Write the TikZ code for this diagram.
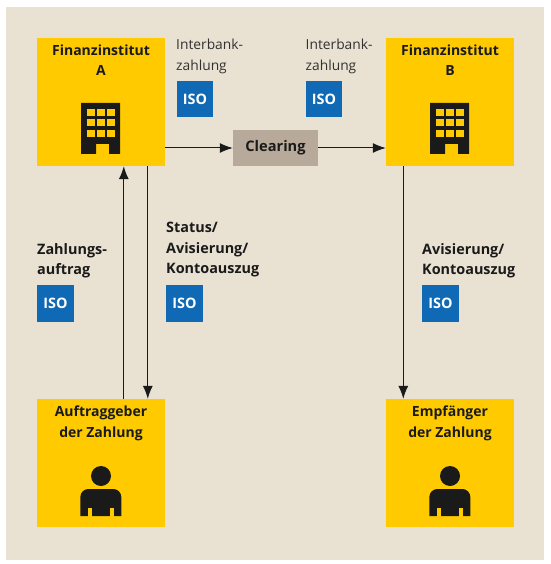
\documentclass[tikz,border=0pt]{standalone}
\usepackage{fontspec}
\setmainfont{Open Sans}
\usetikzlibrary{positioning,arrows.meta}
\definecolor{uSand}{HTML}{E9E2D3}
\definecolor{uGold}{HTML}{FFCB00}
\definecolor{uIso}{HTML}{0F69B4}
\definecolor{uClear}{HTML}{B8AA9A}
\definecolor{uInk}{HTML}{1A1A1A}
\tikzset{
  party/.style={fill=uGold, minimum width=128pt, minimum height=128pt, inner sep=0pt},
  title/.style={font=\fontsize{14}{20.3}\selectfont\bfseries, text=uInk, align=center, inner sep=0pt},
  lbl/.style={font=\fontsize{13.8}{20.5}\selectfont, text=uInk!90, align=left, inner sep=0pt, anchor=north west},
  lblb/.style={lbl, font=\fontsize{14.4}{20.5}\selectfont\bfseries, text=uInk},
  iso/.style={fill=uIso, text=white, minimum width=36.5pt, minimum height=36.5pt, inner sep=0pt,
              font=\fontsize{14.4}{16}\selectfont\bfseries, anchor=north west},
  clear/.style={fill=uClear, text=uInk, minimum width=85pt, minimum height=36pt, inner sep=0pt,
                font=\fontsize{14.6}{16}\selectfont\bfseries},
  flow/.style={-{Latex[length=13pt,width=10pt]}, line width=1pt, draw=uInk},
  building/.pic={
    \fill[uInk] (-20,0) -- (19,0) -- (19,51) -- (8,51) -- (8,41) -- (-5,41) -- (-5,51) -- (-20,51) -- cycle;
    \foreach \wx in {-14,-4,6}
      \foreach \wy in {6,16,27}
        \fill[uGold] (\wx,\wy) rectangle ++(7.5,7.5);
  },
  person/.pic={
    \fill[uInk] (0,0) circle (10);
    \fill[uInk] (-20.7,40) [rounded corners=8pt] -- (-20.7,13) -- (20.3,13) [sharp corners] -- (20.3,40) -- cycle;
    \fill[uGold] (-13.3,32) rectangle (-9,40.5);
    \fill[uGold] (9,32) rectangle (13.3,40.5);
  },
}
\begin{document}
\begin{tikzpicture}[x=1pt, y=-1pt]
\useasboundingbox (0,0) rectangle (550,564);
\fill[uSand] (6,7) rectangle (544,560);

%% the four parties
\node[party] (finA) at (101,102) {};
\node[party] (finB) at (450,102) {};
\node[party] (payer) at (101,463) {};
\node[party] (payee) at (450,463) {};
\node[clear] (clearing) at (275.5,148) {Clearing};

\node[title, anchor=north] (finAtitle) at ([yshift=-7pt]finA.north) {Finanzinstitut\\A};
\node[title, anchor=north] (finBtitle) at ([yshift=-7pt]finB.north) {Finanzinstitut\\B};
\node[title, anchor=north] (payertitle) at ([yshift=-7pt]payer.north) {Auftraggeber\\der Zahlung};
\node[title, anchor=north] (payeetitle) at ([yshift=-7pt]payee.north) {Empfänger\\der Zahlung};

\pic at (101,103) {building};
\pic at (450,103) {building};
\pic at (101,476) {person};
\pic at (450,476) {person};

%% labels and ISO tags
\node[lbl] (ibankA) at (176,39) {Interbank-\\zahlung};
\node[iso] (isoA) at (176.5,80.5) {ISO};
\node[lbl] (ibankB) at (305.5,39) {Interbank-\\zahlung};
\node[iso] (isoB) at (305.5,80.5) {ISO};
\node[lblb] (order) at (37,243) {Zahlungs-\\auftrag};
\node[iso] (isoOrder) at (37,285) {ISO};
\node[lblb] (status) at (166,222) {Status/\\Avisierung/\\Kontoauszug};
\node[iso] (isoStatus) at (166,285) {ISO};
\node[lblb] (advice) at (422,243) {Avisierung/\\Kontoauszug};
\node[iso] (isoAdvice) at (422,285) {ISO};

%% the flows
\draw[flow] (clearing.west -| finA.east) -- (clearing.west);
\draw[flow] (clearing.east) -- (clearing.east -| finB.west);
\draw[flow] ([xshift=87pt]payer.north west) -- ([xshift=87pt]finA.south west);
\draw[flow] ([xshift=111pt]finA.south west) -- ([xshift=111pt]payer.north west);
\draw[flow] ([xshift=17.5pt]finB.south west) -- ([xshift=17.5pt]payee.north west);

\end{tikzpicture}
\end{document}
